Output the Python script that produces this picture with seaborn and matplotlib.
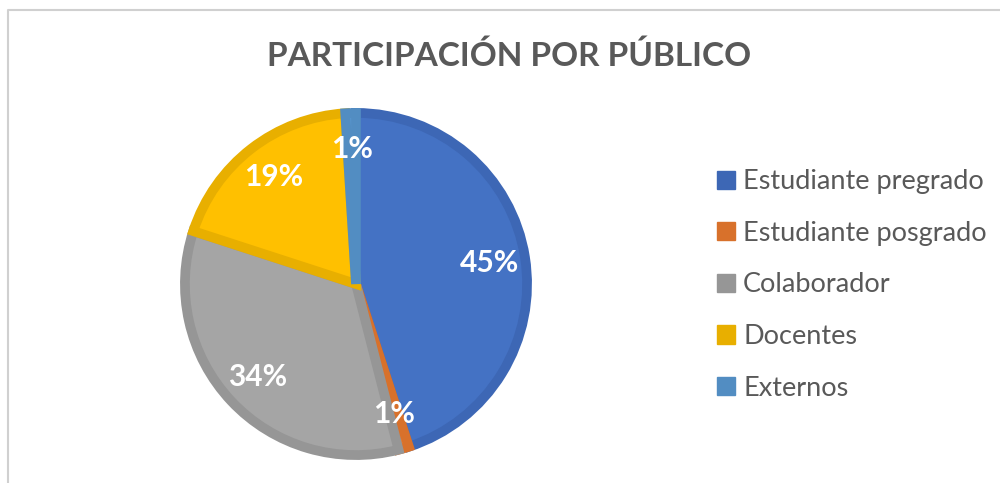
import matplotlib.pyplot as plt
from matplotlib.patches import Patch
from matplotlib.lines import Line2D
import seaborn as sns

categorias = ["Estudiante pregrado", "Estudiante posgrado", "Colaborador",
              "Docentes", "Externos"]
porcentajes = [45, 1, 34, 19, 1]
colores = ["#4472C4", "#ED7D31", "#A5A5A5", "#FFC000", "#5B9BD5"]
bordes = ["#3D67B5", "#D8712B", "#969696", "#E8AF00", "#528DC2"]

sns.set_theme(style="white")
plt.rcParams["font.family"] = ["Lato", "DejaVu Sans"]

fig = plt.figure(figsize=(10, 4.83), dpi=100)

# marco gris del area del grafico (solo se ven el borde superior e izquierdo)
y_top = 1 - 10 / 483
x_left = 8 / 1000
fig.lines.append(Line2D([x_left, x_left, 1.0], [0.0, y_top, y_top],
                        transform=fig.transFigure, color="#D0D0D0", linewidth=1.5))

ax = fig.add_axes([0.18, 23 / 483, 0.352, 352 / 483])
wedges, textos, pcts = ax.pie(
    porcentajes, colors=colores, startangle=90, counterclock=False,
    radius=0.972, autopct="%1.0f%%", pctdistance=0.79,
    wedgeprops=dict(linewidth=7, joinstyle="miter"),
    textprops=dict(color="white", fontsize=21.5, fontweight="bold"))
for w, b in zip(wedges, bordes):
    w.set_edgecolor(b)
ax.set_xlim(-1, 1)
ax.set_ylim(-1, 1)
ax.set_aspect("equal")

fig.text(0.509, 0.884, "PARTICIPACIÓN POR PÚBLICO", ha="center", va="center",
         fontsize=24, fontweight="bold", color="#595959")

handles = [Patch(facecolor=b, edgecolor=b) for b in bordes]
fig.legend(handles, categorias, loc="center left", bbox_to_anchor=(0.693, 0.41),
           frameon=False, fontsize=19.5, labelcolor="#595959",
           handlelength=0.65, handleheight=0.65, handletextpad=0.3,
           labelspacing=0.98)

fig.savefig("out.png", dpi=100)
